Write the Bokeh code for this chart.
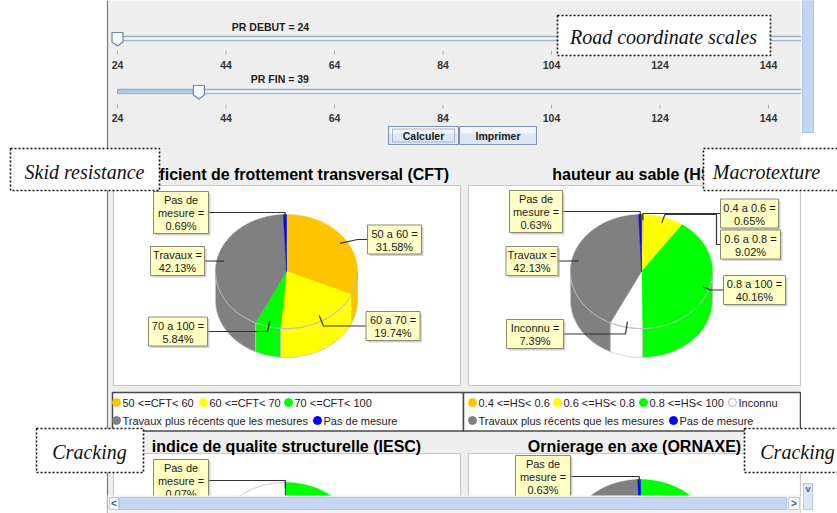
import numpy as np
from bokeh.plotting import figure
from bokeh.models import Range1d
from bokeh.core.properties import value
from bokeh.embed import file_html
from bokeh.resources import INLINE

# ---------------- data ----------------
pr_ticks = [24, 44, 64, 84, 104, 124, 144]
pr_debut = 24
pr_fin = 39
pr_track_end = 150

cft_title = "Coefficient de frottement transversal (CFT)"
cft_labels = ["50 a 60", "60 a 70", "70 a 100", "Travaux", "Pas de mesure"]
cft_values = [31.58, 19.74, 5.84, 42.13, 0.69]
cft_colors = ["#FFC400", "#FFFF00", "#00FF00", "#808080", "#0000FF"]
cft_legend = ["50 <=CFT< 60", "60 <=CFT< 70", "70 <=CFT< 100",
              "Travaux plus récents que les mesures", "Pas de mesure"]

hs_title = "hauteur au sable (HS)"
hs_labels = ["0.4 a 0.6", "0.6 a 0.8", "0.8 a 100", "Inconnu", "Travaux", "Pas de mesure"]
hs_values = [0.65, 9.02, 40.16, 7.39, 42.13, 0.63]
hs_colors = ["#FFC400", "#FFFF00", "#00FF00", "#FFFFFF", "#808080", "#0000FF"]
hs_legend = ["0.4 <=HS< 0.6", "0.6 <=HS< 0.8", "0.8 <=HS< 100", "Inconnu",
             "Travaux plus récents que les mesures", "Pas de mesure"]

iesc_title = "indice de qualite structurelle (IESC)"
iesc_values = [47.0, 6.0, 46.93, 0.07]
iesc_colors = ["#00FF00", "#FFFF00", "#FFFFFF", "#0000FF"]

ornaxe_title = "Ornierage en axe (ORNAXE)"
ornaxe_values = [49.0, 8.24, 42.13, 0.63]
ornaxe_colors = ["#00FF00", "#FFFF00", "#808080", "#0000FF"]

notes = ["Road coordinate scales", "Skid resistance", "Macrotexture", "Cracking", "Cracking"]

# ---------------- figure ----------------
W, H = 837, 513
p = figure(width=W, height=H, x_range=Range1d(0, W), y_range=Range1d(H, 0),
           output_backend="svg", toolbar_location=None, min_border=0,
           x_axis_location=None, y_axis_location=None,
           background_fill_color="white", border_fill_color="white")
p.grid.visible = False
p.outline_line_color = None

PX0, PPU = 117, 5.425
p.extra_x_ranges = {"pr": Range1d(24 - PX0 / PPU, 24 + (W - PX0) / PPU)}

SANS = "Liberation Sans"
SERIF = "Liberation Serif"


def rect(l, t, r, b, **kw):
    p.quad(left=[l], right=[r], top=[t], bottom=[b], **kw)


def txt(x, y, s, size="11px", font=SANS, style="normal", align="left",
        baseline="middle", color="black", **kw):
    p.text(x=[x], y=[y], text=[s], text_font=value(font), text_font_size=size,
           text_font_style=style, text_align=align, text_baseline=baseline,
           text_color=color, **kw)


# app background
rect(107, 0, 800, 497, fill_color="#EEEEEE", line_color=None)
p.segment(x0=[107], x1=[107], y0=[0], y1=[513], line_color="#7A7A7A", line_width=1.2)

# ---------------- sliders ----------------
def slider(yc, val, label, ly, tick_y, lab_y):
    rect(24, yc - 2, pr_track_end, yc + 2, fill_color="#F7F8FA", line_color=None,
         x_range_name="pr")
    if val > 24:
        rect(24, yc - 2, val, yc + 2, fill_color="#B9CDE8", line_color="#8FA9CC",
             x_range_name="pr")
    p.segment(x0=[24], x1=[pr_track_end], y0=[yc - 2], y1=[yc - 2],
              line_color="#93ADD0", line_width=1.3, x_range_name="pr")
    p.segment(x0=[24], x1=[pr_track_end], y0=[yc + 2], y1=[yc + 2],
              line_color="#A9B4C4", line_width=1.3, x_range_name="pr")
    dx = np.array([-5.5, 5.5, 5.5, 0, -5.5]) / PPU
    dy = np.array([-6.5, -6.5, 3, 7, 3])
    p.patch(x=val + dx, y=yc + 0.5 + dy, fill_color="#F4F8FD", line_color="#6E88AC",
            line_width=1.2, x_range_name="pr")
    txt(val + (ly[0] - PX0) / PPU, ly[1], label, size="10.5px", style="bold",
        align="center", color="#222222", x_range_name="pr")
    p.segment(x0=pr_ticks, x1=pr_ticks, y0=[tick_y] * len(pr_ticks),
              y1=[tick_y + 4] * len(pr_ticks), line_color="#9DB3CF", x_range_name="pr")
    p.text(x=pr_ticks, y=[lab_y] * len(pr_ticks), text=[str(t) for t in pr_ticks],
           text_font=value(SANS), text_font_size="10.5px", text_font_style="bold",
           text_align="center", text_baseline="middle", text_color="#333333",
           x_range_name="pr")


slider(38, pr_debut, f"PR DEBUT = {pr_debut}", (270, 26), 50, 64)
slider(91, pr_fin, f"PR FIN = {pr_fin}", (198, 78), 104, 117)

# buttons
for (l, r, s) in [(388, 458, "Calculer"), (459, 536, "Imprimer")]:
    rect(l, 126, r, 144, fill_color="#DDE7F3", line_color="#7D91AE", line_width=1)
    rect(l + 1, 126.5, r - 1, 133, fill_color="#F2F6FB", line_color=None)
    txt((l + r) / 2, 135, s, size="10.5px", style="bold", align="center", color="#1A1A1A")
rect(392, 128.5, 454, 141.5, fill_color=None, line_color="#9AA8BC", line_width=0.8)

# ---------------- chart panels ----------------
for (l, r, t, b) in [(113, 460, 185, 385), (468, 800, 185, 385),
                     (113, 460, 453, 520), (468, 800, 453, 520)]:
    rect(l, t, r, b, fill_color="white", line_color="#C8C8C8", line_width=1.2)

txt(286, 174, cft_title, size="16px", style="bold", align="center")
txt(634, 174, hs_title, size="16px", style="bold", align="center")
txt(286, 446, iesc_title, size="16px", style="bold", align="center")
txt(634, 446, ornaxe_title, size="16px", style="bold", align="center")

RX, RY, DEPTH = 71, 57, 29


def pie3d(cx, cy, values, colors):
    vals = np.array(values, float)
    frac = vals / vals.sum()
    ends = np.cumsum(frac) * 2 * np.pi
    starts = ends - frac * 2 * np.pi

    def pt(a, r=1.0):
        return cx + RX * r * np.sin(a), cy - RY * r * np.cos(a)

    xs, ys, cs = [], [], []
    for a0, a1, c in zip(starts, ends, colors):
        lo, hi = max(a0, np.pi / 2), min(a1, 3 * np.pi / 2)
        if hi > lo:
            a = np.linspace(lo, hi, 50)
            x, y = pt(a)
            xs.append(np.concatenate([x, x[::-1]]))
            ys.append(np.concatenate([y, y[::-1] + DEPTH]))
            cs.append(c)
    p.patches(xs, ys, fill_color=cs, line_color="#C4C4C4", line_width=0.8)
    xs, ys = [], []
    for a0, a1 in zip(starts, ends):
        a = np.linspace(a0, a1, max(3, int((a1 - a0) / 0.02)))
        x, y = pt(a)
        xs.append(np.concatenate([[cx], x, [cx]]))
        ys.append(np.concatenate([[cy], y, [cy]]))
    p.patches(xs, ys, fill_color=list(colors), line_color=list(colors), line_width=0.5)
    a = np.linspace(np.pi / 2, 3 * np.pi / 2, 100)
    x, y = pt(a)
    p.line(x, y, line_color="#B8B8B8", line_width=1)
    for a0, a1, c in zip(starts, ends, colors):
        if c.upper() == "#FFFFFF":
            aa = np.linspace(a0, a1, 60)
            x, y = pt(aa)
            p.line(x, y, line_color="#C8C8C8", line_width=1)
    mids = (starts + ends) / 2
    return [pt(m, 0.9) for m in mids]


def pie_label(lines, box, anchor, elbows):
    bx, by, bw = box
    bh = 13 * len(lines) + 3
    edge = bx + bw / 2 if anchor[0] > bx else bx - bw / 2
    path_x = [edge] + [e[0] for e in elbows] + [anchor[0]]
    path_y = [by] + [e[1] for e in elbows] + [anchor[1]]
    p.line(path_x, path_y, line_color="#333333", line_width=1.2)
    rect(bx - bw / 2 + 2, by - bh / 2 + 2, bx + bw / 2 + 2, by + bh / 2 + 2,
         fill_color="#9A9A9A", fill_alpha=0.45, line_color=None)
    rect(bx - bw / 2, by - bh / 2, bx + bw / 2, by + bh / 2,
         fill_color="#FFFFC6", line_color="#8C8A6C", line_width=1)
    n = len(lines)
    for i, s in enumerate(lines):
        txt(bx, by - (n - 1) * 6.5 + i * 13 + 0.5, s, size="11px", align="center",
            color="#1A1A1A")


def lbl_lines(name, v):
    if name == "Pas de mesure":
        return ["Pas de", "mesure =", f"{v:.2f}%"]
    return [f"{name} =", f"{v:.2f}%"]


# CFT pie
anc = pie3d(286, 271, cft_values, cft_colors)
cft_layout = [((394, 239, 54), lambda a: [(357, 239)]),
              ((392.5, 325.5, 54), lambda a: [(323, 325.5)]),
              ((177.5, 331, 59), lambda a: [(267, 331)]),
              ((177, 260.5, 54), lambda a: [(213, 260.5)]),
              ((180.5, 212, 55), lambda a: [(a[0], 212)])]
for name, v, a, (box, el) in zip(cft_labels, cft_values, anc, cft_layout):
    pie_label(lbl_lines(name, v), box, a, el(a))

# HS pie
anc = pie3d(641, 271, hs_values, hs_colors)
hs_layout = [((749, 213, 58), lambda a: [(a[0], 213)]),
             ((750, 244, 60), lambda a: [(716, 244), (716, 214), (a[0] + 3, 214)]),
             ((754, 289.5, 62), lambda a: [(710, 289.5)]),
             ((534.5, 333.5, 57), lambda a: [(625, 333.5)]),
             ((531.5, 260.5, 52), lambda a: [(568, 260.5)]),
             ((535.5, 211, 53), lambda a: [(a[0], 211)])]
for name, v, a, (box, el) in zip(hs_labels, hs_values, anc, hs_layout):
    pie_label(lbl_lines(name, v), box, a, el(a))

# bottom (partially visible) pies
anc = pie3d(285, 539, iesc_values, iesc_colors)
pie_label(lbl_lines("Pas de mesure", iesc_values[-1]), (180.5, 480, 55),
          (anc[-1][0], anc[-1][1]), [(anc[-1][0], 480)])
anc = pie3d(640, 536, ornaxe_values, ornaxe_colors)
pie_label(lbl_lines("Pas de mesure", ornaxe_values[-1]), (542.5, 476, 55),
          (anc[-1][0], anc[-1][1]), [(anc[-1][0], 476)])

# ---------------- legends ----------------
def legend(l, r, labels, colors, rows):
    rect(l, 392, r, 430.5, fill_color="white", line_color="#4A4A4A", line_width=1.5)
    for (idx, xpos, yy) in rows:
        c = colors[idx]
        lc = "#B0B0B0" if c.upper() == "#FFFFFF" else c
        p.scatter(x=[xpos], y=[yy], size=8, marker="circle", fill_color=c, line_color=lc)
        txt(xpos + 6, yy + 0.5, labels[idx], size="11px", color="#222222")


legend(112, 463, cft_legend, ["#FFC400", "#FFFF00", "#00FF00", "#808080", "#0000FF"],
       [(0, 116, 402), (1, 203, 402), (2, 288, 402), (3, 116, 420), (4, 317, 420)])
legend(463, 800, hs_legend, ["#FFC400", "#FFFF00", "#00FF00", "#FFFFFF", "#808080", "#0000FF"],
       [(0, 472, 402), (1, 557, 402), (2, 643, 402), (3, 732, 402), (4, 472, 420), (5, 673, 420)])

# ---------------- viewport edges / scrollbars ----------------
rect(800.5, 0, 840, 520, fill_color="white", line_color=None)
rect(802, 0, 813, 132, fill_color="#C5D6F4", line_color="#AFC3E6")
rect(107, 495, 800, 513, fill_color="#F2F2F2", line_color=None)
rect(119, 497, 786, 509, fill_color="#C6D7F3", line_color="#AFC3E6")
rect(109, 497, 118, 509, fill_color="#F4F7FC", line_color="#C0CCE0")
rect(788, 497, 799, 509, fill_color="#F4F7FC", line_color="#C0CCE0")
txt(113.5, 503, "<", size="10px", style="bold", align="center", color="#3A5FA0")
txt(793.5, 503, ">", size="10px", style="bold", align="center", color="#3A5FA0")
rect(803, 483, 812, 509, fill_color="#DCE6F6", line_color="#B8C8E4")
txt(807.5, 488, "v", size="9px", style="bold", align="center", color="#3A5FA0")

# ---------------- annotation boxes ----------------
note_boxes = [(557, 15, 770, 55, 663, 36), (10, 148, 159, 190, 84, 171),
              (703, 148, 845, 190, 766, 171), (36, 428, 143, 472, 89, 451),
              (744, 428, 845, 472, 797, 451)]
for s, (l, t, r, b, tx, ty) in zip(notes, note_boxes):
    rect(l, t, r, b, fill_color="white", line_color="#111111", line_width=1.6,
         line_dash="2 2")
    txt(tx, ty, s, size="20px", font=SERIF, style="italic", align="center", color="#111111")

open("out.html", "w").write(file_html(p, INLINE))
